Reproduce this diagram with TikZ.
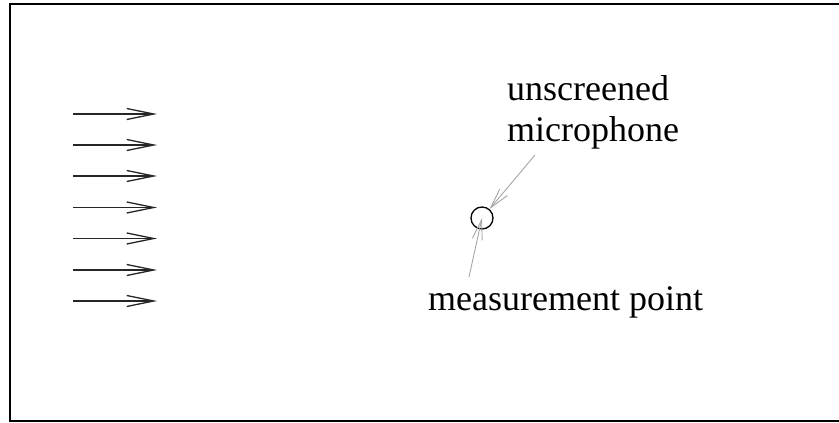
\documentclass[tikz,border=0pt]{standalone}
\usepackage{fontspec}
\setmainfont{Liberation Serif}
\usetikzlibrary{arrows.meta}
\tikzset{
  flow/.style={draw=black!85, line width=1.3pt,
    -{Straight Barb[length=27pt,width=11pt,line width=1.3pt]}},
  pointer/.style={draw=black!35, line width=0.9pt,
    -{Straight Barb[length=20pt,width=10pt,line width=0.9pt]}},
  label/.style={font=\fontsize{36}{41}\selectfont, inner sep=0pt, anchor=base west},
  mic/.style={circle, draw=black, line width=1.3pt, minimum size=22pt, inner sep=0pt}
}
\begin{document}
\begin{tikzpicture}[x=1pt,y=-1pt]
\useasboundingbox (0,0) rectangle (839,423);
\fill[white] (0,0) rectangle (839,423);
% outer frame (open on the right)
\draw[line width=2pt] (850,4) -- (10,4) -- (10,421) -- (850,421);

% incoming flow arrows
\foreach \i/\yy in {1/114,2/145,3/176,4/207.5,5/238.5,6/270,7/301}{
  \coordinate (s\i) at (73,\yy);
  \coordinate (e\i) at (157,\yy);
  \draw[flow] (s\i) -- (e\i);
}

% microphone
\node[mic] (mp) at (482,218) {};

% labels
\node[label] (unscr) at (507,100.7) {unscreened};
\node[label] (micro) at (507,141.7) {microphone};
\node[label] (meas) at (428,310) {measurement point};

% leader lines
\coordinate (micfoot) at (535,155);
\coordinate (measfoot) at (469,277);
\draw[pointer] (micfoot) -- (mp);
\draw[pointer] (measfoot) -- (mp.center);
\end{tikzpicture}
\end{document}
